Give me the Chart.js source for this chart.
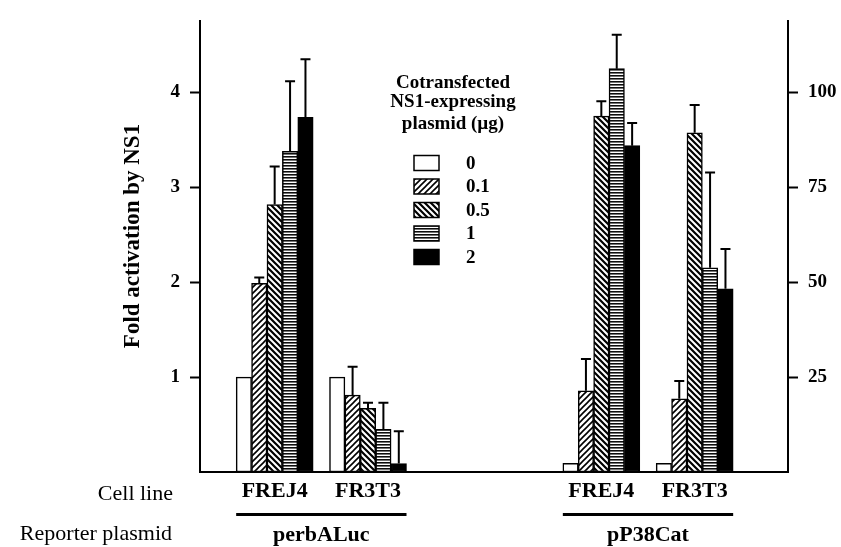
<!DOCTYPE html>
<html>
<head>
<meta charset="utf-8">
<script src="https://cdn.jsdelivr.net/npm/chart.js@4.4.1/dist/chart.umd.min.js"></script>
<style>
  html, body { margin: 0; padding: 0; background: #fff; }
</style>
</head>
<body>
<canvas id="chart" width="841" height="547"></canvas>
<script>
// ── Data ──────────────────────────────────────────────────────────────────────
const reporters  = ['perbALuc', 'pP38Cat'];
const cellLines  = ['FREJ4', 'FR3T3'];
const doses      = ['0', '0.1', '0.5', '1', '2'];      // µg NS1 plasmid
const legendTitle = ['Cotransfected', 'NS1-expressing', 'plasmid (\u00b5g)'];
const yTitle     = 'Fold activation by NS1';
const leftTicks  = [1, 2, 3, 4];
const rightTicks = [25, 50, 75, 100];

// fold activation by dose, perbALuc on the left axis
const lucFREJ4    = [1.00, 1.99, 2.82, 3.38, 3.74];
const lucFR3T3    = [1.00, 0.81, 0.67, 0.45, 0.09];
const lucFREJ4Err = [0, 0.06, 0.40, 0.74, 0.61];
const lucFR3T3Err = [0, 0.30, 0.06, 0.28, 0.34];

// pP38Cat on the right axis
const catFREJ4    = [2.3, 21.4, 93.8, 106.3, 86.0];
const catFR3T3    = [2.3, 19.3, 89.4, 53.8, 48.3];
const catFREJ4Err = [0, 8.4, 3.9, 8.9, 6.0];
const catFR3T3Err = [0, 4.7, 7.3, 25.1, 10.5];

// ── Layout ────────────────────────────────────────────────────────────────────
const groupPos = [0, 1, 3.5, 4.5];   // x slot of each cell-line group
const serif = "'Liberation Serif', 'Times New Roman', serif";

function hatch(kind, lw) {
    const s = kind === '-' ? 3 : 6;
    const c = document.createElement('canvas');
    c.width = s; c.height = s;
    const g = c.getContext('2d');
    g.fillStyle = '#fff';
    g.fillRect(0, 0, s, s);
    g.strokeStyle = '#000';
    g.lineWidth = lw;
    g.beginPath();
    if (kind === '-') {
        g.moveTo(0, 0.8); g.lineTo(s, 0.8);
    } else if (kind === '/') {
        g.moveTo(0, s); g.lineTo(s, 0);
        g.moveTo(-1, 1); g.lineTo(1, -1);
        g.moveTo(s - 1, s + 1); g.lineTo(s + 1, s - 1);
    } else {
        g.moveTo(0, 0); g.lineTo(s, s);
        g.moveTo(-1, s - 1); g.lineTo(1, s + 1);
        g.moveTo(s - 1, -1); g.lineTo(s + 1, 1);
    }
    g.stroke();
    return g.createPattern(c, 'repeat');
}

const fills = ['#fff', hatch('/', 1.6), hatch('\\', 2.2), hatch('-', 1.5), '#000'];

const datasets = [];
doses.forEach((d, i) => {
    datasets.push({
        label: d, yAxisID: 'y', stack: 'dose' + i,
        data: [{ x: groupPos[0], y: lucFREJ4[i] }, { x: groupPos[1], y: lucFR3T3[i] }],
        err: [lucFREJ4Err[i], lucFR3T3Err[i]],
        backgroundColor: fills[i],
    });
    datasets.push({
        label: d, yAxisID: 'y1', stack: 'dose' + i,
        data: [{ x: groupPos[2], y: catFREJ4[i] }, { x: groupPos[3], y: catFR3T3[i] }],
        err: [catFREJ4Err[i], catFR3T3Err[i]],
        backgroundColor: fills[i],
    });
});

// ── Plugins ───────────────────────────────────────────────────────────────────
const errorBars = {
    id: 'errorBars',
    afterDatasetsDraw(chart) {
        const ctx = chart.ctx;
        ctx.save();
        ctx.strokeStyle = '#000';
        ctx.lineWidth = 2;
        chart.data.datasets.forEach((ds, di) => {
            const scale = chart.scales[ds.yAxisID];
            chart.getDatasetMeta(di).data.forEach((bar, j) => {
                if (!ds.err[j]) return;
                const top = scale.getPixelForValue(ds.data[j].y + ds.err[j]);
                ctx.beginPath();
                ctx.moveTo(bar.x, bar.y);
                ctx.lineTo(bar.x, top);
                ctx.moveTo(bar.x - 5, top);
                ctx.lineTo(bar.x + 5, top);
                ctx.stroke();
            });
        });
        ctx.restore();
    }
};

const annotations = {
    id: 'annotations',
    afterDraw(chart) {
        const ctx = chart.ctx;
        ctx.save();
        ctx.fillStyle = '#000';

        // y axis title
        ctx.font = 'bold 23px ' + serif;
        ctx.textAlign = 'center';
        ctx.textBaseline = 'middle';
        ctx.save();
        ctx.translate(133, 236);
        ctx.rotate(-Math.PI / 2);
        ctx.fillText(yTitle, 0, 0);
        ctx.restore();

        // row captions
        ctx.textBaseline = 'alphabetic';
        ctx.font = '22px ' + serif;
        ctx.textAlign = 'right';
        ctx.fillText('Cell line', 173, 500);
        ctx.fillText('Reporter plasmid', 172, 540);

        // reporter underline + name
        ctx.font = 'bold 22px ' + serif;
        ctx.textAlign = 'center';
        reporters.forEach((name, r) => {
            const first = chart.getDatasetMeta(r).data[0];
            const last  = chart.getDatasetMeta(2 * (doses.length - 1) + r).data[1];
            const x0 = first.x - first.width / 2;
            const x1 = last.x + last.width / 2;
            ctx.fillRect(x0, 513, x1 - x0, 3);
            ctx.fillText(name, (x0 + x1) / 2, 541);
        });

        // legend
        ctx.font = 'bold 19px ' + serif;
        legendTitle.forEach((t, k) => ctx.fillText(t, 453, [88, 107, 129][k]));
        ctx.textAlign = 'left';
        ctx.textBaseline = 'middle';
        doses.forEach((d, i) => {
            const y = 163 + i * 23.5;
            ctx.fillStyle = fills[i];
            ctx.fillRect(414, y - 7.5, 25, 15);
            ctx.strokeStyle = '#000';
            ctx.lineWidth = 1.5;
            ctx.strokeRect(414, y - 7.5, 25, 15);
            ctx.fillStyle = '#000';
            ctx.fillText(d, 466, y + 1);
        });
        ctx.restore();
    }
};

// ── Chart ─────────────────────────────────────────────────────────────────────
const tickFont = { family: serif, size: 19, weight: 'bold' };
const axisGrid = { drawOnChartArea: false, tickLength: 10, tickWidth: 2, tickColor: '#000' };
const axisBorder = { color: '#000', width: 2 };

new Chart(document.getElementById('chart'), {
    type: 'bar',
    data: { datasets },
    options: {
        responsive: false,
        animation: false,
        devicePixelRatio: 1,
        layout: { padding: { top: 18, left: 0, right: 0, bottom: 0 } },
        datasets: {
            bar: { barThickness: 15.4, borderColor: '#000', borderWidth: 1.5, borderSkipped: false }
        },
        plugins: { legend: { display: false }, tooltip: { enabled: false } },
        scales: {
            x: {
                type: 'linear', min: -0.8, max: 5.5, offset: false,
                afterBuildTicks: s => { s.ticks = groupPos.map(v => ({ value: v })); },
                afterFit: s => { s.height = 75; },
                grid: { display: false, drawTicks: false },
                border: axisBorder,
                ticks: {
                    autoSkip: false, maxRotation: 0, padding: 6, color: '#000',
                    font: { family: serif, size: 22, weight: 'bold' },
                    callback: (v, i) => cellLines[i % cellLines.length],
                },
            },
            y: {
                position: 'left', min: 0, max: 4.75, stacked: false,
                afterBuildTicks: s => { s.ticks = leftTicks.map(v => ({ value: v })); },
                afterFit: s => { s.width = 200; },
                grid: axisGrid,
                border: axisBorder,
                ticks: { font: tickFont, color: '#000', padding: 10 },
            },
            y1: {
                position: 'right', min: 0, max: 4.75 * 25, stacked: false,
                afterBuildTicks: s => { s.ticks = rightTicks.map(v => ({ value: v })); },
                afterFit: s => { s.width = 53; },
                grid: axisGrid,
                border: axisBorder,
                ticks: { font: tickFont, color: '#000', padding: 10 },
            },
        },
    },
    plugins: [errorBars, annotations],
});
</script>
</body>
</html>
